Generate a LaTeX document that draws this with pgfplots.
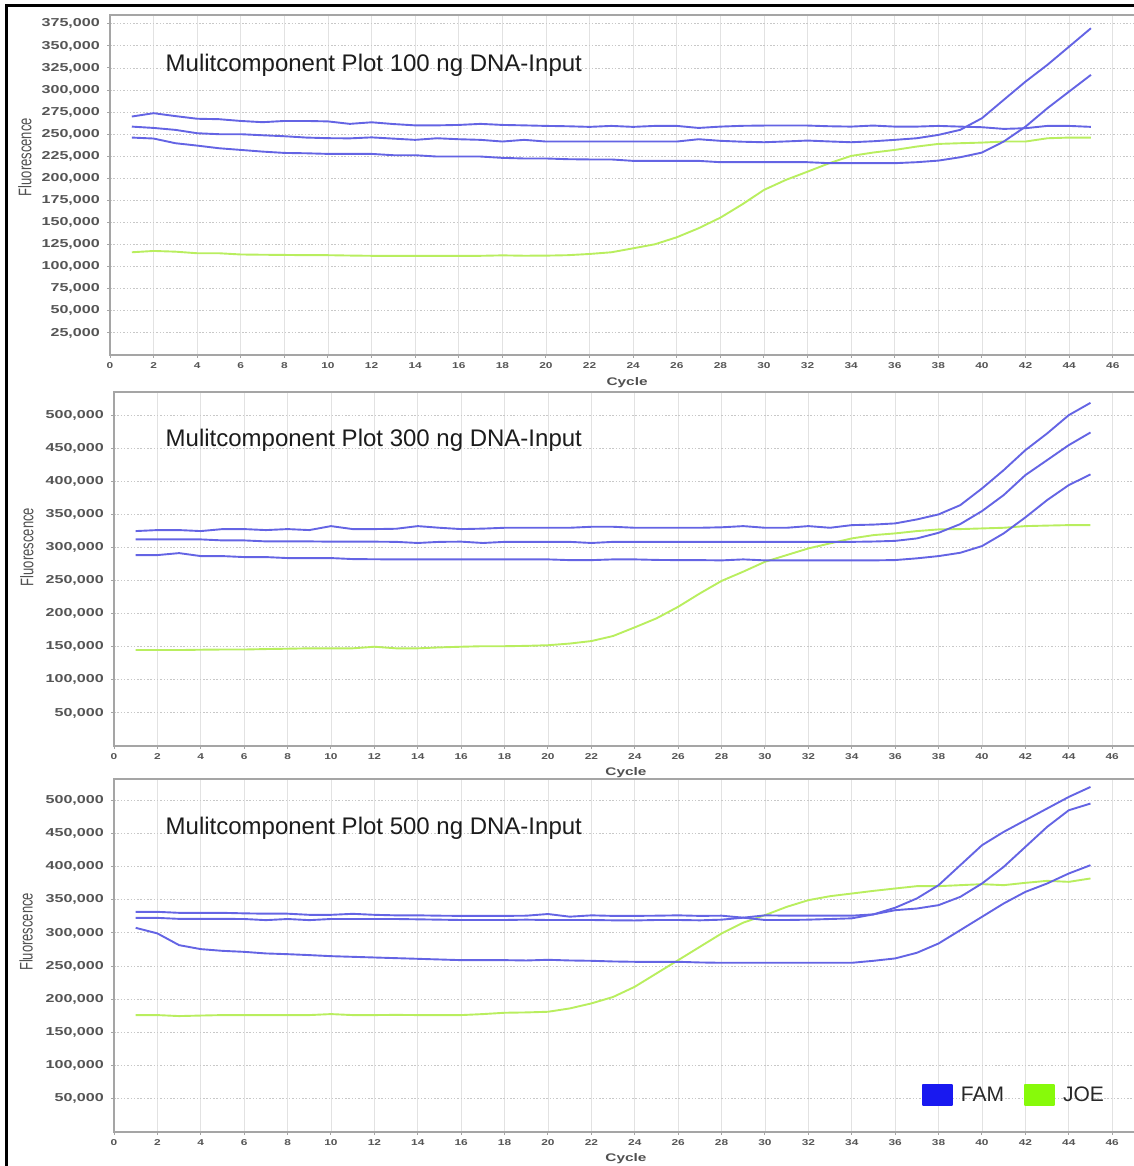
\documentclass[border=0pt]{standalone}
\usepackage{pgfplots}
\pgfplotsset{compat=1.18}
\usepackage{pgfplotstable}
\usepackage{graphicx}
\usepackage{fontspec}
\setmainfont{Liberation Sans}
\newfontfamily\tickfont[FakeStretch=1.4]{Liberation Sans}

\definecolor{famline}{RGB}{100,100,228}
\definecolor{joeline}{RGB}{185,238,95}
\definecolor{famleg}{RGB}{25,25,240}
\definecolor{joeleg}{RGB}{135,250,10}
\definecolor{ticktext}{RGB}{85,85,85}
\definecolor{labeltext}{RGB}{80,80,80}
\definecolor{axisgray}{RGB}{165,165,165}
\definecolor{vgrid}{RGB}{226,226,226}
\definecolor{hgrid}{RGB}{200,200,200}
\definecolor{titletext}{RGB}{28,28,28}

% values in thousands of fluorescence units
\pgfplotstableread{
c A B C J
1 270.0 258.6 246.2 116.3
2 273.8 257.1 245.1 117.8
3 270.5 254.9 239.8 117.0
4 267.5 251.1 237.1 115.2
5 267.0 250.0 234.1 115.2
6 265.0 250.0 232.2 113.8
7 263.6 248.8 230.3 113.5
8 265.0 247.7 228.8 113.3
9 265.0 246.2 228.4 113.0
10 264.5 245.5 227.7 113.0
11 261.7 245.3 227.7 112.6
12 263.5 246.4 227.7 112.3
13 261.5 245.0 226.2 112.3
14 260.0 243.6 226.2 112.3
15 260.0 245.4 224.7 112.3
16 260.5 244.3 224.7 112.3
17 261.7 243.6 224.7 112.3
18 260.5 241.7 223.2 112.8
19 260.0 243.6 222.5 112.4
20 259.4 241.7 222.5 112.5
21 259.0 241.7 221.7 113.0
22 258.3 241.7 221.4 114.4
23 259.4 241.7 221.4 116.3
24 258.3 241.7 219.8 120.8
25 259.4 241.7 219.8 125.4
26 259.4 241.7 219.8 133.3
27 257.1 244.3 219.8 143.5
28 258.6 242.5 218.3 155.5
29 259.5 241.5 218.3 170.5
30 259.8 240.9 218.3 186.9
31 259.8 241.8 218.3 198.2
32 259.8 242.8 218.3 207.6
33 259.0 241.8 217.2 217.2
34 258.6 240.9 217.2 225.4
35 259.8 242.0 217.2 229.2
36 258.6 243.6 217.2 232.2
37 258.6 245.4 218.3 236.0
38 259.4 249.2 220.1 239.0
39 258.6 254.9 223.9 239.8
40 257.9 268.1 229.2 240.5
41 256.0 288.9 241.7 241.7
42 256.8 309.6 258.6 241.7
43 259.4 328.5 279.4 245.4
44 259.4 349.2 298.3 246.2
45 258.3 370.0 317.2 246.2
}\dataone

\pgfplotstableread{
c A B C J
1 324.8 312.2 288.5 145.0
2 326.3 312.2 288.5 145.0
3 326.3 312.2 291.5 145.0
4 324.8 312.2 287.0 145.5
5 327.8 310.7 287.0 145.8
6 327.8 310.7 285.5 145.8
7 326.3 309.2 285.5 146.5
8 327.8 309.2 284.0 147.0
9 326.3 309.2 284.0 147.6
10 332.3 308.8 284.0 147.6
11 327.8 308.8 282.5 147.6
12 327.8 308.8 282.2 150.0
13 328.3 308.5 282.0 147.6
14 332.3 306.8 282.0 147.6
15 329.8 308.5 282.0 149.0
16 327.8 308.8 282.0 150.0
17 328.5 306.8 282.0 150.8
18 329.8 308.5 282.0 150.8
19 329.8 308.5 282.0 151.3
20 329.8 308.5 282.0 152.3
21 329.8 308.5 280.9 154.8
22 331.3 306.8 280.9 158.6
23 331.3 308.5 282.0 166.2
24 329.8 308.5 282.0 179.3
25 329.8 308.5 281.2 192.9
26 329.8 308.5 280.9 210.4
27 329.8 308.5 280.9 230.6
28 330.5 308.5 280.5 249.5
29 332.3 308.5 282.0 263.5
30 329.8 308.5 280.5 278.4
31 329.8 308.5 280.5 288.5
32 332.3 308.5 280.5 298.6
33 329.8 308.5 280.5 306.2
34 333.8 308.5 280.5 313.7
35 334.6 309.0 280.5 318.7
36 336.4 310.0 281.0 321.3
37 342.4 313.7 283.6 324.8
38 350.0 322.2 287.0 327.3
39 364.0 335.4 292.0 327.8
40 389.2 355.0 302.1 328.8
41 416.9 379.2 321.3 329.8
42 447.1 409.4 345.5 332.3
43 472.3 432.0 371.6 333.1
44 500.0 454.7 394.3 333.8
45 518.6 473.8 410.4 333.8
}\datatwo

\pgfplotstableread{
c A B C J
1 331.8 322.7 307.7 176.2
2 331.8 322.7 299.3 176.2
3 330.3 321.2 281.6 174.7
4 330.3 321.2 275.6 175.5
5 330.3 321.2 273.0 176.2
6 329.5 321.0 271.5 176.2
7 329.0 319.3 269.1 176.2
8 329.0 321.0 268.0 176.2
9 327.3 319.3 266.6 176.2
10 327.3 321.0 265.0 177.7
11 328.8 321.0 264.0 176.2
12 327.3 321.0 263.0 176.2
13 326.5 321.0 262.0 176.5
14 326.5 320.5 261.0 176.2
15 326.0 320.0 260.0 176.2
16 325.7 319.5 259.0 176.2
17 325.7 319.5 259.0 177.7
18 325.7 319.5 259.0 179.7
19 326.0 320.0 258.5 180.2
20 328.5 319.5 259.5 181.2
21 324.5 319.5 258.5 186.2
22 326.5 319.5 258.0 193.8
23 325.7 319.0 257.0 203.5
24 325.7 318.8 256.5 218.9
25 326.0 319.5 256.5 239.0
26 326.5 319.5 256.5 259.0
27 325.7 319.0 255.5 279.1
28 326.0 320.0 255.0 299.2
29 323.0 323.0 255.0 315.5
30 319.5 326.5 255.0 326.8
31 319.5 326.0 255.0 339.3
32 320.0 326.0 255.0 349.4
33 321.0 326.0 255.0 355.4
34 322.0 326.0 255.0 359.4
35 328.0 328.0 258.0 363.4
36 338.0 334.3 261.6 367.0
37 352.0 336.8 270.1 370.5
38 372.0 341.9 284.1 370.5
39 402.1 354.4 304.2 372.0
40 432.2 374.5 324.3 373.5
41 452.3 399.6 344.4 372.0
42 469.9 429.7 361.9 375.5
43 487.5 459.8 374.5 378.5
44 505.0 484.9 389.6 377.0
45 520.0 495.0 402.1 382.1
}\datathree

\pgfplotsset{
 panel/.style={
  scale only axis, xmin=0, ymin=0,
  xtick={0,2,...,46},
  axis line style={axisgray, line width=1.2pt},
  tick style={axisgray, line width=1pt},
  tick align=outside, major tick length=3pt, tick pos=left,
  xmajorgrids, ymajorgrids,
  x grid style={vgrid, line width=0.9pt},
  y grid style={hgrid, line width=0.9pt, dash pattern=on 1.5pt off 1.8pt},
  tick label style={inner sep=0pt, text=ticktext},
  yticklabel style={font=\tickfont\bfseries\fontsize{11.5}{12}\selectfont, xshift=-7pt},
  xticklabel style={font=\tickfont\bfseries\fontsize{8.5}{9}\selectfont, yshift=-4pt},
  scaled y ticks=false,
  /pgf/number format/assume math mode=true,
  xlabel={Cycle},
  ylabel={\scalebox{1}[1.4]{Fluorescence}},
  xlabel style={font=\tickfont\bfseries\fontsize{11}{12}\selectfont, text=labeltext, anchor=center, inner sep=0pt},
  ylabel style={font=\fontsize{13}{14}\selectfont, text=labeltext, anchor=center, inner sep=0pt},
  every axis plot/.append style={line width=1.9pt, line join=round, mark=none},
 },
 fam/.style={famline, forget plot},
 joe/.style={joeline, forget plot},
}

\begin{document}
\begin{tikzpicture}
\useasboundingbox (0pt,0pt) rectangle (1133pt,1166pt);

% ---------- Panel 1: 100 ng ----------
\begin{axis}[panel,
  at={(110pt,811pt)}, anchor=south west,
  width=1028pt, height=340pt,
  xmax=47.16, ymax=385,
  ytick={25,50,...,375},
  yticklabels={{25,000},{50,000},{75,000},{100,000},{125,000},{150,000},{175,000},{200,000},{225,000},{250,000},{275,000},{300,000},{325,000},{350,000},{375,000}},
  xlabel style={at={(axis description cs:0.503,-0.0824)}},
  ylabel style={at={(axis description cs:-0.0827,0.582)}},
]
\addplot[joe] table[x=c,y=J] {\dataone};
\addplot[fam] table[x=c,y=A] {\dataone};
\addplot[fam] table[x=c,y=B] {\dataone};
\addplot[fam] table[x=c,y=C] {\dataone};
\end{axis}

% ---------- Panel 2: 300 ng ----------
\begin{axis}[panel,
  at={(114pt,420pt)}, anchor=south west,
  width=1024pt, height=354pt,
  xmax=47.19, ymax=535,
  ytick={50,100,...,500},
  yticklabels={{50,000},{100,000},{150,000},{200,000},{250,000},{300,000},{350,000},{400,000},{450,000},{500,000}},
  xlabel style={at={(axis description cs:0.5,-0.0763)}},
  ylabel style={at={(axis description cs:-0.0850,0.562)}},
]
\addplot[joe] table[x=c,y=J] {\datatwo};
\addplot[fam] table[x=c,y=A] {\datatwo};
\addplot[fam] table[x=c,y=B] {\datatwo};
\addplot[fam] table[x=c,y=C] {\datatwo};
\end{axis}

% ---------- Panel 3: 500 ng ----------
\begin{axis}[panel,
  at={(114pt,34pt)}, anchor=south west,
  width=1024pt, height=353pt,
  xmax=47.19, ymax=532,
  ytick={50,100,...,500},
  yticklabels={{50,000},{100,000},{150,000},{200,000},{250,000},{300,000},{350,000},{400,000},{450,000},{500,000}},
  xlabel style={at={(axis description cs:0.5,-0.0765)}},
  ylabel style={at={(axis description cs:-0.0859,0.567)}},
  legend columns=2,
  legend cell align=left,
  legend style={at={(axis description cs:0.7891,0.1048)}, anchor=west,
    draw=none, fill=none, inner sep=0pt, outer sep=0pt,
    font=\fontsize{21}{23}\selectfont, text={rgb,255:red,40;green,40;blue,40},
    nodes={inner sep=0pt},
    /tikz/every odd column/.append style={column sep=8pt},
    /tikz/every even column/.append style={column sep=20pt}},
]
\addplot[joe] table[x=c,y=J] {\datathree};
\addplot[fam] table[x=c,y=A] {\datathree};
\addplot[fam] table[x=c,y=B] {\datathree};
\addplot[fam] table[x=c,y=C] {\datathree};
\addlegendimage{legend image code/.code={\fill[famleg] (0pt,-10pt) rectangle (29pt,10pt);}}
\addlegendentry{FAM}
\addlegendimage{legend image code/.code={\fill[joeleg] (0pt,-10pt) rectangle (29pt,10pt);}}
\addlegendentry{JOE}
\end{axis}

% ---------- titles inside the panels ----------
\begin{scope}[every node/.style={anchor=base west, inner sep=0pt, font=\fontsize{24}{28}\selectfont, text=titletext}]
\node at (165.5pt,1094.3pt) {Mulitcomponent Plot 100 ng DNA-Input};
\node at (165.5pt,719.3pt) {Mulitcomponent Plot 300 ng DNA-Input};
\node at (165.5pt,331pt) {Mulitcomponent Plot 500 ng DNA-Input};
\end{scope}

% ---------- outer frame ----------
\draw[black, line width=2.6pt] (6.7pt,-5pt) -- (6.7pt,1160.7pt) -- (1140pt,1160.7pt);
\end{tikzpicture}
\end{document}
